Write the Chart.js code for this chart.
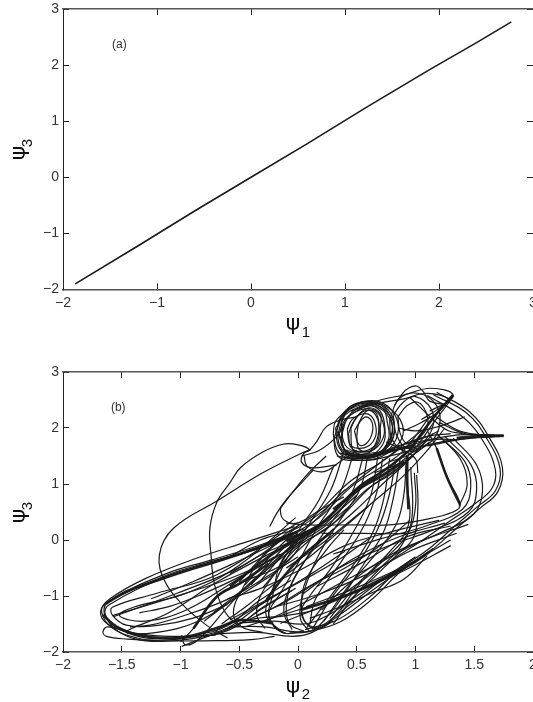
<!DOCTYPE html>
<html>
<head>
<meta charset="utf-8">
<script src="https://cdn.jsdelivr.net/npm/chart.js@4"></script>
<style>
html, body { margin: 0; padding: 0; background: #fff; overflow: hidden; }
canvas { display: block; }
</style>
</head>
<body>
<canvas id="chartA" width="533" height="350"></canvas>
<canvas id="chartB" width="533" height="352"></canvas>
<script>
const xTicksA = [-2, -1, 0, 1, 2, 3];
const xTicksB = [-2, -1.5, -1, -0.5, 0, 0.5, 1, 1.5, 2];
const yTicks = [-2, -1, 0, 1, 2, 3];

// panel (a)
const psi1 = [-1.87, -1.2, -0.6, 0, 0.6, 1.2, 1.9, 2.4, 2.77];
const psi3 = [-1.9, -1.22, -0.6, 0, 0.6, 1.22, 1.92, 2.4, 2.77];

// panel (b), read stroke by stroke as [psi2, psi3]
const outlierArc = [[0.33,1.34],[0.12,1.29],[0.03,1.39],[0.05,1.55],[0.10,1.61],[0,1.70],[-0.13,1.71],[-0.30,1.57],[-0.49,1.29],[-0.58,1.02],[-0.69,0.68],[-0.75,0.21],[-0.74,-0.27],[-0.71,-0.80],[-0.62,-1.29],[-0.5,-1.55]];
const outlierLine = [[0.10,1.61],[0.02,1.54],[-0.3,1.2],[-0.68,0.71],[-1.06,0.21],[-1.18,-0.27],[-1.13,-0.75],[-0.98,-1.16],[-0.78,-1.52],[-0.6,-1.75]];
const leftBand1 = [[-0.01,0.14],[-0.32,-0.12],[-0.75,-0.39],[-1.12,-0.63],[-1.63,-1.13],[-1.67,-1.30],[-1.58,-1.57],[-1.37,-1.75],[-1.18,-1.79],[-0.89,-1.73],[-0.60,-1.57],[-0.32,-1.16],[-0.04,-0.80]];
const leftBand2 = [[0.02,0.18],[-0.31,-0.08],[-0.74,-0.36],[-1.12,-0.60],[-1.6,-1.08],[-1.65,-1.30],[-1.56,-1.54],[-1.36,-1.72],[-1.17,-1.76],[-0.88,-1.70],[-0.6,-1.53],[-0.34,-1.1],[-0.06,-0.72]];
const leftBand3 = [[0.0,0.10],[-0.33,-0.15],[-0.76,-0.42],[-1.13,-0.66],[-1.61,-1.16],[-1.64,-1.33],[-1.55,-1.6],[-1.38,-1.77],[-1.16,-1.81],[-0.9,-1.76],[-0.58,-1.6],[-0.3,-1.22],[-0.02,-0.86]];
const leftOuter = [[-0.03,0.24],[-0.43,-0.03],[-0.87,-0.33],[-1.3,-0.69],[-1.6,-1.05],[-1.68,-1.28],[-1.62,-1.5],[-1.4,-1.66],[-1.1,-1.72],[-0.7,-1.7]];
const leftLower = [[-1.4,-1.66],[-1.62,-1.55],[-1.66,-1.64],[-1.63,-1.72],[-1.45,-1.77],[-1.15,-1.8],[-0.8,-1.8],[-0.4,-1.78],[-0.2,-1.72]];
const leftInner1 = [[-0.01,0.30],[-0.69,-0.62],[-1.2,-0.95],[-1.58,-1.2],[-1.58,-1.34],[-1.46,-1.52],[-1.18,-1.52],[-0.9,-1.4],[-0.6,-1.15]];
const leftInner2 = [[-0.01,0.01],[-0.69,-0.75],[-1.1,-1.3],[-1.46,-1.64],[-1.2,-1.65],[-0.85,-1.45],[-0.5,-1.0],[-0.2,-0.6]];
const leftInner3 = [[-0.02,0.4],[-0.5,-0.45],[-0.95,-0.95],[-1.4,-1.2],[-1.52,-1.35],[-1.3,-1.45],[-0.95,-1.25],[-0.55,-0.75],[-0.15,-0.25]];
const leftChord = [[-1.58,-1.35],[-1.0,-0.98],[-0.5,-0.62],[-0.1,-0.2],[0.2,0.3]];
const leftChord2 = [[-1.57,-1.37],[-1.03,-0.95],[-0.49,-0.48],[-0.1,0.05]];
const leftChord3 = [[-1.43,-1.55],[-1.26,-1.52],[-1.0,-1.37],[-0.61,-1.07],[-0.3,-0.7],[0,-0.3]];
const leftChord4 = [[-1.35,-1.3],[-1.1,-1.19],[-0.83,-0.98],[-0.49,-0.65],[-0.2,-0.3]];
const leftChord5 = [[-1.25,-1.05],[-0.9,-0.75],[-0.55,-0.42],[-0.25,-0.12],[0.05,0.2]];
const bottomTip = [[-0.99,-1.7],[-0.96,-1.87],[-0.85,-1.78],[-0.6,-1.2],[-0.4,-0.75],[-0.15,-0.28],[0.02,0.05]];
const bottomTip2 = [[-1.0,-1.82],[-0.89,-1.58],[-0.69,-1.01],[-0.49,-0.77],[-0.1,-0.4],[0.05,0]];
const bottomTip3 = [[-0.99,-1.9],[-0.78,-1.73],[-0.49,-1.49],[-0.3,-1.2],[-0.05,-0.9]];
const midBand1 = [[-0.58,-1.43],[-0.27,-1.07],[0.05,-0.71],[0.35,-0.35],[0.62,0.05]];
const midBand2 = [[-0.7,-1.62],[-0.5,-1.38],[-0.2,-1.0],[0.1,-0.62],[0.4,-0.2]];
const midBand3 = [[-0.58,-0.30],[-0.32,0],[-0.01,0.21],[0.2,0.5],[0.4,0.9]];
const midBand4 = [[-0.58,-0.6],[-0.3,-0.25],[-0.05,-0.02],[0.25,0.35],[0.5,0.8]];
const midBand5 = [[-0.65,-1.5],[-0.42,-1.15],[-0.15,-0.7],[0.1,-0.3],[0.35,0.15],[0.6,0.6]];
const midBand6 = [[-0.5,-1.5],[-0.2,-1.2],[0.1,-0.82],[0.4,-0.5],[0.7,-0.1],[0.95,0.35]];
const midBand7 = [[-0.72,-1.3],[-0.45,-0.85],[-0.2,-0.42],[0.05,0],[0.3,0.5],[0.55,1.0]];
const midBand8 = [[-0.8,-1.45],[-0.55,-1.05],[-0.3,-0.6],[-0.1,-0.2],[0.2,0.2],[0.45,0.62]];
const centerBand1 = [[-0.4,-0.8],[-0.07,-0.04],[0.21,0.32],[0.50,0.93],[0.76,1.29],[0.93,1.57],[1.15,2.18],[1.32,2.59]];
const centerBand2 = [[-0.35,-0.8],[-0.04,-0.08],[0.24,0.30],[0.53,0.91],[0.79,1.27],[0.96,1.55],[1.17,2.14],[1.30,2.5]];
const centerBand3 = [[-0.45,-0.8],[-0.1,0],[0.18,0.4],[0.47,0.98],[0.73,1.33],[0.9,1.6],[1.12,2.2]];
const centerBand4 = [[-0.3,-0.85],[0,-0.12],[0.27,0.24],[0.56,0.86],[0.82,1.22],[0.98,1.5]];
const centerBand5 = [[-0.5,-0.75],[-0.14,0.05],[0.15,0.46],[0.44,1.04],[0.7,1.38],[0.88,1.65]];
const centerBand6 = [[-0.2,-0.6],[0.1,0.0],[0.35,0.38],[0.62,0.95],[0.86,1.3],[1.02,1.6]];
const centerBand7 = [[-0.15,-0.15],[0.12,0.3],[0.38,0.85],[0.62,1.25],[0.85,1.62],[1.05,1.95]];
const centerBand8 = [[0.0,-0.35],[0.25,0.1],[0.5,0.55],[0.72,1.0],[0.92,1.38],[1.1,1.8]];
const centerBand9 = [[-0.1,-0.5],[0.18,-0.1],[0.42,0.3],[0.68,0.75],[0.9,1.15],[1.08,1.55],[1.25,2.0]];
const spike1 = [[0.50,1.52],[0.93,1.64],[1.35,1.79],[1.75,1.86]];
const spike2 = [[1.15,2.23],[1.40,1.93],[1.75,1.87],[1.4,1.88],[1.0,1.75]];
const spike3 = [[1.2,2.1],[1.42,1.9],[1.72,1.85],[1.45,1.82],[1.1,1.68]];
const rightOuter = [[1.18,2.64],[1.46,2.29],[1.63,1.82],[1.74,1.29],[1.70,0.86],[1.55,0.57],[1.35,0.21],[1.12,-0.21],[0.87,-0.57],[0.64,-1.04],[0.36,-1.46],[0.08,-1.64],[-0.07,-1.66]];
const rightOuter2 = [[1.15,2.6],[1.44,2.26],[1.61,1.8],[1.72,1.27],[1.68,0.88],[1.53,0.6],[1.33,0.24],[1.1,-0.18],[0.85,-0.54],[0.62,-1.0],[0.34,-1.42],[0.06,-1.6]];
const rightOuter3 = [[1.1,2.58],[1.4,2.2],[1.58,1.75],[1.68,1.25],[1.65,0.92],[1.5,0.64],[1.28,0.32],[1.02,-0.06],[0.75,-0.42],[0.5,-0.8]];
const rightInner1 = [[1.32,1.82],[1.52,1.34],[1.57,0.86],[1.49,0.45],[1.2,0.12],[0.8,-0.25],[0.45,-0.75],[0.2,-1.25]];
const rightInner2 = [[1.25,1.85],[1.47,1.35],[1.52,0.9],[1.45,0.5],[1.15,0.18],[0.75,-0.12],[0.35,-0.5],[0.05,-0.95]];
const rightInner3 = [[1.2,1.85],[1.42,1.4],[1.47,0.95],[1.4,0.55],[1.1,0.26],[0.7,0.02],[0.3,-0.25]];
const rightInner4 = [[1.18,1.9],[1.38,1.45],[1.44,1.0],[1.37,0.6]];
const hook = [[1.1,1.95],[1.18,1.64],[1.27,1.11],[1.38,0.63],[1.32,0.50],[1.07,0.36],[0.78,0.27],[0.50,0.27],[0.08,0.27],[-0.1,0.3]];
const hookLoop = [[0.39,0.77],[0.19,0.54],[-0.01,0.30],[-0.12,0.36],[-0.15,0.54],[-0.12,0.65],[-0.01,0.95],[0.10,1.22],[0.24,1.5]];
const hookLoop2 = [[-0.24,0.24],[-0.18,0.48],[-0.1,0.72],[0.03,1.02],[0.13,1.25]];
const hookCross = [[0.2,0.12],[0.55,0.12],[0.95,0.12],[1.02,0.18]];
const fan1 = [[1.01,1.16],[1.02,0.57],[0.98,0.03],[0.84,-0.27],[0.64,-0.68],[0.40,-1.16],[0.25,-1.5]];
const fan2 = [[0.93,1.04],[0.94,0.27],[0.78,-0.21],[0.50,-0.80],[0.27,-1.40]];
const fan3 = [[0.59,1.46],[0.53,0.92],[0.39,0.45],[0.19,-0.21],[0.05,-0.92],[0.02,-1.40],[0.10,-1.64]];
const fan4 = [[0.47,1.52],[0.36,0.86],[0.16,0.21],[-0.01,-0.45],[-0.15,-0.95],[-0.25,-1.31],[-0.2,-1.55],[-0.1,-1.67]];
const fan5 = [[0.78,1.46],[0.73,0.74],[0.64,0.15],[0.47,-0.45],[0.22,-1.16],[0.07,-1.58]];
const fan6 = [[0.87,1.46],[0.81,0.74],[0.73,0.15],[0.59,-0.33],[0.33,-1.16],[0.16,-1.58]];
const fan7 = [[0.68,1.5],[0.62,0.8],[0.5,0.25],[0.3,-0.45],[0.1,-1.0],[0.03,-1.25],[0.07,-1.49],[0.17,-1.58]];
const fan8 = [[0.92,1.4],[0.9,0.8],[0.84,0.3],[0.68,-0.2],[0.42,-0.85],[0.22,-1.45]];
const fan9 = [[0.39,1.58],[0.28,0.9],[0.1,0.3],[-0.1,-0.35],[-0.24,-1.0],[-0.27,-1.35],[-0.15,-1.62]];
const fan10 = [[0.96,1.3],[0.97,0.4],[0.88,-0.1],[0.7,-0.5],[0.48,-1.0],[0.3,-1.5]];
const fan11 = [[0.55,1.45],[0.46,0.85],[0.28,0.3],[0.08,-0.3],[-0.08,-0.9],[-0.12,-1.3],[-0.05,-1.6]];
const fan12 = [[0.72,1.45],[0.67,0.85],[0.56,0.25],[0.38,-0.35],[0.15,-1.05],[0.1,-1.5]];
const fan13 = [[0.83,1.4],[0.77,0.75],[0.68,0.2],[0.53,-0.35],[0.28,-1.05],[0.12,-1.6]];
const fan14 = [[0.3,1.3],[0.18,0.72],[0.0,0.15],[-0.15,-0.45],[-0.32,-1.0],[-0.35,-1.35],[-0.28,-1.58]];
const fan15 = [[0.99,1.2],[1.0,0.6],[0.93,0.1],[0.76,-0.3],[0.55,-0.72],[0.36,-1.25]];
const ellipseLow1 = [[-0.01,-0.06],[-0.15,-0.42],[-0.21,-0.95],[-0.25,-1.31],[-0.20,-1.55],[-0.10,-1.67],[0.05,-1.62]];
const ellipseLow2 = [[0.39,0.18],[0.24,-0.18],[0.07,-0.71],[0.03,-1.19],[0.07,-1.49],[0.17,-1.58],[0.3,-1.45]];
const ellipseLow3 = [[0.3,0.2],[0.12,-0.2],[-0.05,-0.75],[-0.1,-1.2],[-0.07,-1.5],[0.05,-1.63]];
const ellipseLow4 = [[0.0,0.25],[-0.3,-0.3],[-0.48,-0.9],[-0.55,-1.3],[-0.48,-1.55],[-0.3,-1.65]];
const lowerBand = [[-0.58,-1.55],[-0.29,-1.55],[-0.01,-1.64],[0.16,-1.58],[0.42,-1.19],[0.64,-0.83],[0.93,-0.42]];
const lowerBand2 = [[-0.7,-1.68],[-0.35,-1.65],[-0.05,-1.72],[0.12,-1.65],[0.38,-1.3],[0.6,-0.95],[0.85,-0.58]];
const lowerBand3 = [[-0.5,-1.48],[-0.2,-1.45],[0.05,-1.5],[0.25,-1.35],[0.5,-1.0],[0.72,-0.7],[1.0,-0.3]];
const cross1 = [[0.07,-1.19],[0.5,-0.85],[0.95,-0.42],[1.3,0]];
const cross2 = [[0.16,-0.83],[0.55,-0.4],[0.93,0.06],[1.3,0.25]];
const cross3 = [[-0.15,-1.49],[0.3,-1.1],[0.78,-0.66],[1.15,-0.15]];
const cross4 = [[-0.45,-1.55],[0,-1.25],[0.45,-0.95],[0.9,-0.55],[1.3,-0.1]];
const cross5 = [[-0.6,-1.05],[-0.3,-0.85],[0.05,-0.5],[0.4,-0.1],[0.8,0.15],[1.2,0.35]];
const cross6 = [[-0.2,-1.2],[0.2,-0.95],[0.6,-0.6],[0.95,-0.2],[1.35,0.12]];
const cross7 = [[-0.35,-1.35],[-0.1,-1.1],[0.2,-0.7],[0.5,-0.3],[0.85,0.05],[1.25,0.3]];
const cross8 = [[-0.62,-1.6],[-0.4,-1.42],[-0.1,-1.35],[0.2,-1.2],[0.55,-0.72]];
const cross9 = [[-0.28,-1.45],[0.05,-1.12],[0.35,-0.78],[0.68,-0.42],[1.05,-0.02],[1.45,0.28]];
const cross10 = [[0.1,-1.4],[0.35,-1.2],[0.62,-0.95],[0.9,-0.7],[1.1,-0.28]];
const loop1 = [[0.36,2.05],[0.40,2.23],[0.53,2.38],[0.67,2.38],[0.78,2.17],[0.80,1.87],[0.70,1.55],[0.53,1.49],[0.39,1.58],[0.34,1.81],[0.36,2.05]];
const loop2 = [[0.38,2.0],[0.43,2.2],[0.54,2.33],[0.65,2.32],[0.72,2.12],[0.73,1.86],[0.65,1.62],[0.52,1.57],[0.42,1.65],[0.38,1.82],[0.38,2.0]];
const loop3 = [[0.42,1.98],[0.46,2.15],[0.55,2.25],[0.62,2.22],[0.66,2.05],[0.66,1.85],[0.6,1.68],[0.5,1.64],[0.44,1.72],[0.42,1.98]];
const loop4 = [[0.34,2.02],[0.39,2.28],[0.52,2.45],[0.69,2.47],[0.82,2.25],[0.85,1.9],[0.75,1.58],[0.55,1.45],[0.37,1.52],[0.31,1.78],[0.34,2.02]];
const loop5 = [[0.40,2.1],[0.46,2.28],[0.58,2.42],[0.72,2.35],[0.76,2.1],[0.77,1.8],[0.67,1.52],[0.48,1.53],[0.37,1.7],[0.40,2.1]];
const loop6 = [[0.45,2.0],[0.5,2.2],[0.6,2.36],[0.7,2.25],[0.7,2.0],[0.69,1.75],[0.58,1.54],[0.47,1.6],[0.45,2.0]];
const loop7 = [[0.33,1.95],[0.36,2.18],[0.48,2.4],[0.62,2.44],[0.75,2.3],[0.82,2.05],[0.78,1.7],[0.62,1.5],[0.44,1.5],[0.33,1.95]];
const loop8 = [[0.3,1.9],[0.32,2.12],[0.44,2.34],[0.56,2.47],[0.72,2.42],[0.87,2.15],[0.88,1.8],[0.72,1.5],[0.5,1.42],[0.34,1.5],[0.3,1.9]];
const loop9 = [[0.48,1.95],[0.53,2.12],[0.58,2.2],[0.63,2.1],[0.63,1.9],[0.58,1.72],[0.52,1.7],[0.48,1.95]];
const loop10 = [[0.35,1.9],[0.4,2.15],[0.5,2.3],[0.6,2.4],[0.7,2.3],[0.74,2.0],[0.72,1.7],[0.6,1.5],[0.42,1.55],[0.35,1.9]];
const loop11 = [[0.43,1.9],[0.47,2.1],[0.56,2.3],[0.66,2.28],[0.69,2.0],[0.67,1.72],[0.55,1.58],[0.45,1.66],[0.43,1.9]];
const loop12 = [[0.5,1.85],[0.52,2.1],[0.6,2.32],[0.68,2.15],[0.68,1.85],[0.62,1.6],[0.52,1.62],[0.5,1.85]];
const loop13 = [[0.37,2.1],[0.44,2.38],[0.6,2.46],[0.77,2.32],[0.82,1.95],[0.74,1.62],[0.58,1.47],[0.4,1.6],[0.37,2.1]];
const loop14 = [[0.32,2.0],[0.42,2.3],[0.55,2.42],[0.7,2.42],[0.8,2.1],[0.77,1.75],[0.66,1.53],[0.46,1.46],[0.35,1.65],[0.32,2.0]];
const upperLoop1 = [[0.81,2.23],[0.90,2.47],[1.0,2.56],[1.13,2.35],[1.15,2.05],[1.07,1.76],[0.93,1.64],[0.84,1.87],[0.81,2.23]];
const upperLoop2 = [[0.85,2.2],[0.93,2.4],[1.02,2.46],[1.09,2.28],[1.1,2.02],[1.02,1.8],[0.93,1.72],[0.87,1.9],[0.85,2.2]];
const upperLoop3 = [[0.78,2.15],[0.86,2.52],[1.02,2.62],[1.18,2.4],[1.2,2.0],[1.1,1.7],[0.92,1.58],[0.8,1.8],[0.78,2.15]];
const topLoop = [[0.82,2.4],[0.89,2.62],[0.94,2.71],[1.01,2.75],[1.07,2.64],[1.12,2.48],[1.25,2.42]];
const topArc = [[0.50,2.35],[0.70,2.50],[0.90,2.59],[1.13,2.71],[1.32,2.59],[1.2,2.35],[1.05,2.15]];
const topArc2 = [[0.45,2.3],[0.68,2.44],[0.9,2.52],[1.1,2.62],[1.28,2.5],[1.12,2.3]];
const loopBase = [[0.36,1.55],[0.59,1.46],[0.87,1.64],[1.15,1.79],[1.35,1.79]];
const loopBase2 = [[0.38,1.62],[0.6,1.52],[0.85,1.68],[1.1,1.85],[1.3,1.9]];
const loopBase3 = [[0.33,1.5],[0.56,1.42],[0.82,1.52],[1.05,1.66],[1.28,1.78]];
const loopFeed = [[0.05,1.52],[0.08,1.31],[0.22,1.22],[0.36,1.4],[0.5,1.6]];
const loopFeed2 = [[0.10,1.6],[0.16,1.76],[0.24,2.02],[0.36,2.14],[0.5,2.2]];
const loopFeed3 = [[0.03,1.5],[0.18,1.6],[0.33,1.85],[0.4,2.1]];
const knotUpper1 = [[0.95,2.55],[1.05,2.35],[1.15,2.15],[1.28,1.95],[1.4,1.9]];
const knotUpper2 = [[0.9,1.95],[1.05,2.1],[1.2,2.3],[1.3,2.55]];
const knotUpper3 = [[0.85,2.0],[1.0,1.95],[1.15,2.0],[1.3,2.1],[1.42,2.2]];
const knotMid1 = [[0.75,1.75],[0.88,1.62],[1.0,1.45],[1.02,1.2]];
const knotMid2 = [[0.7,1.55],[0.9,1.7],[1.1,1.85],[1.2,1.95]];
const knotMid3 = [[0.78,1.4],[0.92,1.5],[1.05,1.68],[1.15,1.9]];
const knotMid4 = [[0.65,1.2],[0.85,1.35],[1.0,1.55],[1.12,1.75]];

// drawn wider: the dark bands of the attractor
const heavyLeftTop = [[-1.63,-1.13],[-1.46,-0.92],[-1.18,-0.71],[-0.89,-0.51],[-0.61,-0.33],[-0.32,-0.12],[-0.01,0.14]];
const heavyLeftLow = [[-1.66,-1.34],[-1.54,-1.55],[-1.35,-1.70],[-1.09,-1.76],[-0.89,-1.70],[-0.66,-1.55],[-0.49,-1.43],[-0.21,-1.49]];
const heavyCenter = [[-0.1,-0.02],[0.2,0.3],[0.5,0.9],[0.76,1.28],[0.93,1.57]];
const heavyCenterTop = [[0.95,1.6],[1.15,2.18],[1.32,2.59]];
const heavyLower1 = [[-0.58,-0.83],[-0.21,-0.24],[-0.01,0.0],[0.2,0.28]];
const heavyLower2 = [[-0.27,-1.07],[-0.12,-0.65],[0.03,-0.3],[0.27,0.12]];
const heavyLower3 = [[0.02,-1.25],[0.42,-0.98],[0.78,-0.63],[0.95,-0.45],[1.12,-0.21]];
const heavyHook = [[1.18,1.64],[1.27,1.11],[1.38,0.63]];
const heavySpike = [[1.35,1.82],[1.55,1.86],[1.75,1.86]];
const heavyLoopBase = [[0.4,1.55],[0.6,1.5],[0.85,1.62],[1.0,1.7]];
const heavyTip = [[-0.89,-1.58],[-0.69,-1.01],[-0.49,-0.77],[-0.25,-0.42]];
const heavyMid = [[0.3,0.55],[0.55,0.95],[0.72,1.15],[0.9,1.4]];
const heavyFan = [[0.93,1.5],[0.93,1.0],[0.94,0.55]];

const strokes = [outlierArc, outlierLine, leftBand1, leftBand2, leftBand3, leftOuter, leftLower, leftInner1, leftInner2, leftInner3, leftChord, leftChord2, leftChord3, leftChord4, leftChord5, bottomTip, bottomTip2, bottomTip3, midBand1, midBand2, midBand3, midBand4, midBand5, midBand6, midBand7, midBand8, centerBand1, centerBand2, centerBand3, centerBand4, centerBand5, centerBand6, centerBand7, centerBand8, centerBand9, spike1, spike2, spike3, rightOuter, rightOuter2, rightOuter3, rightInner1, rightInner2, rightInner3, rightInner4, hook, hookLoop, hookLoop2, hookCross, fan1, fan2, fan3, fan4, fan5, fan6, fan7, fan8, fan9, fan10, fan11, fan12, fan13, fan14, fan15, ellipseLow1, ellipseLow2, ellipseLow3, ellipseLow4, lowerBand, lowerBand2, lowerBand3, cross1, cross2, cross3, cross4, cross5, cross6, cross7, cross8, cross9, cross10, loop1, loop2, loop3, loop4, loop5, loop6, loop7, loop8, loop9, loop10, loop11, loop12, loop13, loop14, upperLoop1, upperLoop2, upperLoop3, topLoop, topArc, topArc2, loopBase, loopBase2, loopBase3, loopFeed, loopFeed2, loopFeed3, knotUpper1, knotUpper2, knotUpper3, knotMid1, knotMid2, knotMid3, knotMid4];
const heavyStrokes = [heavyLeftTop, heavyLeftLow, heavyCenter, heavyCenterTop, heavyLower1, heavyLower2, heavyLower3, heavyHook, heavySpike, heavyLoopBase, heavyTip, heavyMid, heavyFan];

const FONT = 'Liberation Sans';
const tickText = v => String(v).replace('-', '\u2212');

// panel tag and the psi axis names with their large subscripts
const panelText = {
    id: 'panelText',
    afterDraw(chart, args, opts) {
        const { ctx, scales, chartArea } = chart;
        ctx.save();
        ctx.textAlign = 'center';
        ctx.textBaseline = 'middle';
        ctx.font = '12px ' + FONT;
        ctx.fillStyle = '#333';
        ctx.fillText(opts.text, scales.x.getPixelForValue(opts.x), scales.y.getPixelForValue(opts.y));

        ctx.fillStyle = '#111';
        ctx.font = '22px "DejaVu Sans"';
        ctx.fillText('\u03c8', 293, chartArea.bottom + 35);
        ctx.font = '15px ' + FONT;
        ctx.fillText(opts.xSub, 306, chartArea.bottom + 43);

        ctx.translate(19, chartArea.top + 144);
        ctx.rotate(-Math.PI / 2);
        ctx.font = '22px "DejaVu Sans"';
        ctx.fillText('\u03c8', 0, 0);
        ctx.font = '15px ' + FONT;
        ctx.fillText(opts.ySub, 10, 9);
        ctx.restore();
    }
};

function makeAxes(xTicks, xMin, xMax, xHeight) {
    const useTicks = list => scale => { scale.ticks = list.map(v => ({ value: v })); };
    const noPad = s => { s.paddingLeft = 0; s.paddingRight = 0; s.paddingTop = 0; s.paddingBottom = 0; };
    const tickGrid = { drawOnChartArea: false, tickLength: -6, color: '#222', lineWidth: 1 };
    const labels = { color: '#333', font: { family: FONT, size: 14 }, autoSkip: false, maxRotation: 0, callback: tickText };
    return {
        x: {
            type: 'linear', min: xMin, max: xMax, position: 'bottom',
            afterBuildTicks: useTicks(xTicks),
            afterFit: s => { s.height = xHeight; noPad(s); },
            grid: tickGrid,
            border: { color: '#555', width: 1.5 },
            ticks: { ...labels, padding: 11 }
        },
        y: {
            type: 'linear', min: -2, max: 3, position: 'left',
            afterBuildTicks: useTicks(yTicks),
            afterFit: s => { s.width = 63; noPad(s); },
            grid: tickGrid,
            border: { color: '#222', width: 1 },
            ticks: { ...labels, padding: 10 }
        },
        xTop: {
            type: 'linear', min: xMin, max: xMax, position: 'top',
            afterBuildTicks: useTicks(xTicks),
            afterFit: s => { s.height = 0; noPad(s); },
            grid: tickGrid,
            border: { color: '#555', width: 1.5 },
            ticks: { display: false }
        },
        yRight: {
            type: 'linear', min: -2, max: 3, position: 'right',
            afterBuildTicks: useTicks(yTicks),
            afterFit: s => { s.width = 0; noPad(s); },
            grid: tickGrid,
            border: { display: false },
            ticks: { display: false }
        }
    };
}

function makeChart(id, datasets, axes, text, top) {
    return new Chart(document.getElementById(id), {
        type: 'scatter',
        data: { datasets },
        options: {
            responsive: false,
            animation: false,
            layout: { padding: { top: top, left: 0, right: 0, bottom: 0 } },
            plugins: { legend: { display: false }, tooltip: { enabled: false }, panelText: text },
            scales: axes
        },
        plugins: [panelText]
    });
}

function strokeSet(s, width, colour) {
    return {
        data: s.map(p => ({ x: p[0], y: p[1] })),
        showLine: true, pointRadius: 0, tension: 0.4, borderColor: colour, borderWidth: width
    };
}

makeChart('chartA', [{
    data: psi1.map((v, i) => ({ x: v, y: psi3[i] })),
    showLine: true, pointRadius: 0, borderColor: '#1a1a1a', borderWidth: 1.6
}], makeAxes(xTicksA, -2, 3, 60.5), { text: '(a)', x: -1.4, y: 2.37, xSub: '1', ySub: '3' }, 9);

makeChart('chartB', [
    ...strokes.map(s => strokeSet(s, 1.2, '#1a1a1a')),
    ...heavyStrokes.map(s => strokeSet(s, 2.6, '#222'))
], makeAxes(xTicksB, -2, 2, 50), { text: '(b)', x: -1.53, y: 2.36, xSub: '2', ySub: '3' }, 22);
</script>
</body>
</html>
